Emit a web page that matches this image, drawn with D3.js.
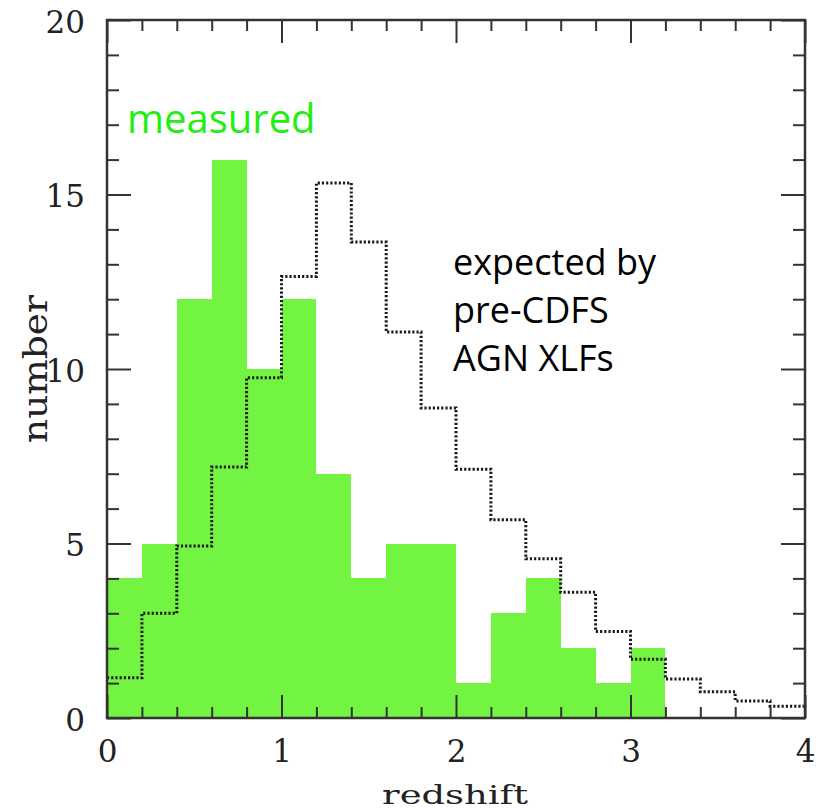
<!DOCTYPE html>
<html lang="en">
<head>
  <meta charset="UTF-8" />
  <title>Redshift histogram</title>
  <script src="https://d3js.org/d3.v7.min.js"></script>
  <style>
    body { margin: 0; background: #fff; }
    svg { display: block; }
    .tick line { stroke: #333; stroke-width: 2; }
    .tick text { font-family: "DejaVu Serif", serif; font-size: 31px; fill: #222; }
    .axis-title { font-family: "DejaVu Serif", serif; fill: #222; }
    .note { font-family: "Open Sans", sans-serif; }
  </style>
</head>
<body>
<svg id="chart" width="825" height="809"></svg>
<script>
// bin edges step 0.2 from 0 to 4
const binStarts = [0, 0.2, 0.4, 0.6, 0.8, 1.0, 1.2, 1.4, 1.6, 1.8, 2.0, 2.2, 2.4, 2.6, 2.8, 3.0, 3.2, 3.4, 3.6, 3.8];
const binWidth = 0.2;
const measured = [4, 5, 12, 16, 10, 12, 7, 4, 5, 5, 1, 3, 4, 2, 1, 2, 0, 0, 0, 0];
const expected = [1.15, 3.0, 4.93, 7.19, 9.75, 12.65, 15.33, 13.64, 11.06, 8.88, 7.13, 5.68, 4.56, 3.6, 2.48, 1.68, 1.12, 0.75, 0.49, 0.34];
const xTicks = [0, 1, 2, 3, 4];
const yTicks = [0, 5, 10, 15, 20];

const svg = d3.select("#chart");
const plotL = 107, plotR = 805, plotT = 20, plotB = 718;

const x = d3.scaleLinear().domain([0, 4]).range([plotL, plotR]);
const y = d3.scaleLinear().domain([0, 20]).range([plotB, plotT]);

// measured bars
svg.append("g")
  .selectAll("rect")
  .data(binStarts.map((b, i) => ({ b, v: measured[i] })).filter(d => d.v > 0))
  .join("rect")
  .attr("x", d => x(d.b))
  .attr("width", d => x(d.b + binWidth) - x(d.b))
  .attr("y", d => y(d.v))
  .attr("height", d => y(0) - y(d.v))
  .attr("fill", "#73f443")
  .attr("shape-rendering", "crispEdges");

// expected step line
const steps = [];
binStarts.forEach((b, i) => {
  steps.push([b, expected[i]]);
  steps.push([b + binWidth, expected[i]]);
});
svg.append("path")
  .attr("d", d3.line().x(d => x(d[0])).y(d => y(d[1]))(steps))
  .attr("fill", "none")
  .attr("stroke", "#1a1a1a")
  .attr("stroke-width", 3)
  .attr("stroke-dasharray", "2.2,2");

// axes: major + minor, ticks pointing inward on all sides
function addAxis(axis, tx, ty) {
  const g = svg.append("g").attr("transform", `translate(${tx},${ty})`).call(axis);
  g.select(".domain").remove();
  return g;
}
const xMinor = d3.range(0, 4.01, 0.2).filter(v => Math.abs(v - Math.round(v)) > 1e-6);
const yMinor = d3.range(0, 20.01, 1).filter(v => v % 5 !== 0);

addAxis(d3.axisBottom(x).tickValues(xTicks).tickSize(-23).tickPadding(22).tickFormat(d3.format("d")), 0, plotB);
addAxis(d3.axisBottom(x).tickValues(xMinor).tickSize(-11).tickFormat(""), 0, plotB);
addAxis(d3.axisTop(x).tickValues(xTicks).tickSize(-23).tickFormat(""), 0, plotT);
addAxis(d3.axisTop(x).tickValues(xMinor).tickSize(-11).tickFormat(""), 0, plotT);
addAxis(d3.axisLeft(y).tickValues(yTicks).tickSize(-24).tickPadding(22).tickFormat(d3.format("d")), plotL, 0)
  .selectAll("text").attr("dy", "0.4em");
addAxis(d3.axisLeft(y).tickValues(yMinor).tickSize(-12).tickFormat(""), plotL, 0);
addAxis(d3.axisRight(y).tickValues(yTicks).tickSize(-24).tickFormat(""), plotR, 0);
addAxis(d3.axisRight(y).tickValues(yMinor).tickSize(-12).tickFormat(""), plotR, 0);

// frame
svg.append("rect")
  .attr("x", plotL).attr("y", plotT)
  .attr("width", plotR - plotL).attr("height", plotB - plotT)
  .attr("fill", "none")
  .attr("stroke", "#333")
  .attr("stroke-width", 2.5);

// axis titles
svg.append("text")
  .attr("class", "axis-title")
  .attr("x", 382).attr("y", 804)
  .attr("font-size", 26)
  .attr("textLength", 146)
  .attr("lengthAdjust", "spacingAndGlyphs")
  .text("redshift");

svg.append("text")
  .attr("class", "axis-title")
  .attr("transform", "translate(47,443) rotate(-90)")
  .attr("font-size", 33)
  .attr("textLength", 148)
  .attr("lengthAdjust", "spacingAndGlyphs")
  .text("number");

// annotations
svg.append("text")
  .attr("class", "note")
  .attr("x", 127).attr("y", 133)
  .attr("font-size", 40)
  .attr("fill", "#22ee11")
  .text("measured");

const noteLines = ["expected by", "pre-CDFS", "AGN XLFs"];
svg.append("g")
  .selectAll("text")
  .data(noteLines)
  .join("text")
  .attr("class", "note")
  .attr("x", 453)
  .attr("y", (d, i) => 275 + i * 48)
  .attr("font-size", 36)
  .attr("fill", "#000")
  .text(d => d);
</script>
</body>
</html>
